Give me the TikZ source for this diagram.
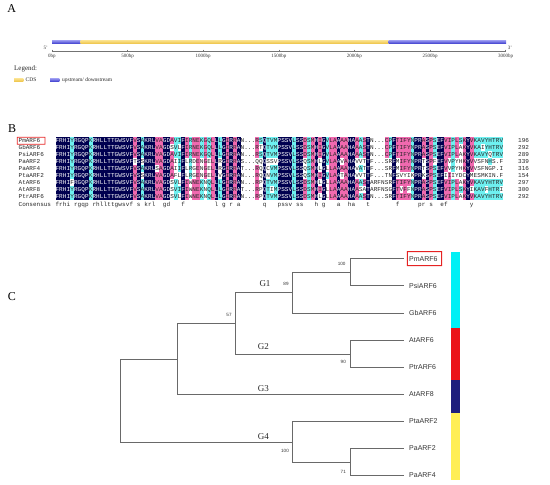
\documentclass[tikz,border=0pt]{standalone}
\usepackage{fontspec}
\setmainfont{Liberation Serif}
\newfontfamily\monof{Liberation Mono}
\newfontfamily\sansf{Liberation Sans}
\definecolor{alnavy}{RGB}{0,0,80}
\definecolor{alpink}{RGB}{240,105,175}
\definecolor{alcyan}{RGB}{110,240,240}
\colorlet{celln}{alnavy}\colorlet{cellp}{alpink}\colorlet{cellc}{alcyan}\colorlet{cellw}{white}
\colorlet{txtn}{white}\colorlet{txtp}{black!85}\colorlet{txtc}{black!85}\colorlet{txtw}{black!85}
\definecolor{segblue}{RGB}{60,60,205}
\definecolor{segbluel}{RGB}{150,150,240}
\definecolor{segyel}{RGB}{238,195,70}
\definecolor{segyell}{RGB}{250,225,140}
\definecolor{treegray}{RGB}{105,105,105}
\definecolor{boxred}{RGB}{230,35,35}
\definecolor{barcyan}{RGB}{0,240,245}
\definecolor{barred}{RGB}{235,20,25}
\definecolor{barnavy}{RGB}{30,30,125}
\definecolor{baryel}{RGB}{255,238,85}
\newcount\ci
\def\emptystr{}
\def\peel#1#2\relax{\def\pHd{#1}\def\pTl{#2}}
\def\tmpl{FRHIYRGQPKRHLLTTGWSVFVSAKRLVAGDAVIFIRNEKGQLLLGIRRAN...RSQTVMPSSVLSSDSMHIGVLAAAAHAAASTN...CPFTIFYNPRASPSEFVIPLSKYVKAVYHTRV}
\def\patt{nnnncnnnncnnnnnnnnnnnpncnnnppnnpccnpcppcpcpncnpnpnwwwwpcncccnnnncnnpcpnpncppnppnnpcpnwwwwpcnppppcnnpnpcnnppcpcpnpcccccccc}
\def\seqrow#1#2{\def\ry{#1}\edef\restS{#2}\let\restT\tmpl\let\restP\patt\ci=0 \seqstep}
\def\seqstep{%
  \ifx\restS\emptystr\else
    \expandafter\peel\restS\relax\let\curch\pHd\let\restS\pTl
    \expandafter\peel\restT\relax\let\tch\pHd\let\restT\pTl
    \expandafter\peel\restP\relax\let\pch\pHd\let\restP\pTl
    \ifx\curch\tch\edef\curcol{\pch}\else\def\curcol{w}\fi
    \pgfmathsetmacro\cx{55.5+3.7*\the\ci}%
    \fill[fill=cell\curcol] (\cx,\ry-3.5) rectangle ++(3.75,7);
    \node[seqtxt,text=txt\curcol] at (\cx+1.85,\ry+2.1) {\curch};
    \advance\ci by 1
    \expandafter\seqstep
  \fi}
\def\consrow#1#2{\def\ry{#1}\edef\restS{#2}\ci=0 \consstep}
\def\consstep{%
  \ifx\restS\emptystr\else
    \expandafter\peel\restS\relax\let\curch\pHd\let\restS\pTl
    \if*\curch\else
      \pgfmathsetmacro\cx{55.5+3.7*\the\ci}%
      \node[seqtxt,text=black!85] at (\cx+1.85,\ry+2.1) {\curch};
    \fi
    \advance\ci by 1
    \expandafter\consstep
  \fi}
\begin{document}
\begin{tikzpicture}[x=1pt,y=-1pt,
  seqtxt/.style={inner sep=0pt,anchor=base,font=\fontsize{6}{7}\selectfont\monof},
  lbl/.style={inner sep=0pt,anchor=base west,font=\fontsize{6}{7}\selectfont\monof,text=black!85},
  panel/.style={inner sep=0pt,font=\fontsize{12}{14}\selectfont},
  tick/.style={inner sep=0pt,font=\fontsize{5}{6}\selectfont,text=black!80},
  axisc/.style={draw=black!55,line width=0.6pt},
  branch/.style={draw=treegray,line width=0.7pt},
  leaf/.style={anchor=west,inner sep=0pt,font=\fontsize{7}{8}\selectfont\sansf,text=black!80},
  boot/.style={inner sep=0pt,font=\fontsize{4.6}{5}\selectfont\sansf,text=black!80},
  grp/.style={inner sep=0pt,font=\fontsize{9}{10}\selectfont,text=black!85},
  redframe/.style={fill=boxred,even odd rule}]
\useasboundingbox (0,0) rectangle (550,485);
% ---------- Panel A ----------
\node[panel] (pA) at (11.7,8.5) {A};
\shade[top color=segbluel,bottom color=segblue] (52,40.3) rectangle (80.7,43.7);
\shade[top color=segyell,bottom color=segyel] (80.7,40.3) rectangle (388.5,43.7);
\shade[top color=segbluel,bottom color=segblue] (388.5,40.3) rectangle (506,43.7);
\draw[axisc] (52,51.7) -- (505.6,51.7);
\foreach \k/\t in {0/0bp,1/500bp,2/1000bp,3/1500bp,4/2000bp,5/2500bp,6/3000bp}{
  \draw[axisc] (52+75.6*\k,49.6) -- (52+75.6*\k,51.7);
  \node[tick] (tk\k) at (52+75.6*\k,56.3) {\t};
}
\node[tick] (five) at (45.8,48) {5'};
\node[tick] (three) at (510,47.7) {3'};
\node[inner sep=0pt,anchor=west,font=\fontsize{7}{8}\selectfont,text=black!85] (leg) at (14,69.3) {Legend:};
\shade[top color=segyell,bottom color=segyel] (14,78.4) rectangle (23.3,81.6);
\node[inner sep=0pt,anchor=west,font=\fontsize{5.5}{6}\selectfont,text=black!85] (cds) at (25.5,80) {CDS};
\shade[top color=segbluel,bottom color=segblue] (50,78.4) rectangle (59.3,81.6);
\node[inner sep=0pt,anchor=west,font=\fontsize{5.5}{6}\selectfont,text=black!85] (ud) at (62,80) {upstream/ downstream};
% ---------- Panel B ----------
\node[panel] (pB) at (12.2,128.3) {B};
\seqrow{140.5}{FRHIYRGQPKRHLLTTGWSVFVSAKRLVAGDAVIFIRNEKGQLLLGIRRAN...RSQTVMPSSVLSSDSMHIGVLAAAAHAAASTN...CPFTIFYNPRASPSEFVIPLSKYVKAVYHTRV}
\seqrow{147.5}{FRHIYRGQPKRHLLTTGWSVFVSAKRLVAGDSVLFIRNEKGQLLLGIRRAN...RTQTVMPSSVLSSDSMHIGVLAAAAHAAASTN...CPFTIFYNPRASPSEFVIPLAKYVKAIYHTRV}
\seqrow{154.5}{FRHIYRGQPKRHLLTTGWSVFVSAKRLVAGDAVIFIRNEKGQLLLGIRRAN...RSQTVMPSSVLSSDSMHIGVLAAAAHAAASTN...CPFTIFYNPRASPSEFVIPLAKYVKAVYQTRV}
\seqrow{161.5}{FRHIYRGQPKRHLLTTGWSVFTSSKRLVAGDAIIFLRDENGELLRGIRRAS...QQQSSVPSSVLSSQSMHLGVLAAVAHAVVTTF...SRFMIFYNPRTSPFEFVVPYHKYVVSFNHS.F}
\seqrow{168.5}{FRHIYRGQPKRHLLTTGWSVFVSAKRLSAGDAIIFLRGENGELLRGIRRAT...RQQCVMPSSVLSSQSMHLGLLAAAAHAVATTF...SRFMIFYNPRTSPSEFVVPYHKYVVSFNGP.I}
\seqrow{175.5}{FRHIYRGQPKRHLLTTGWSVFVSSKRLVAGDAFLFLRGENGELLVGIRRAN...RQQNVMPSSVLSSQSMHIGVLAATAHAVVTTF...TNFSVYIKPRKSPSEFIIIYDCYMESMKIN.F}
\seqrow{182.5}{FRHIFRGQPKRHLLTTGWSVFVSAKRLVAGDSVLFIWNEKNQLLLGIRRAN...RPQTVMPSSVLSSDSMHLGLLAAAAHAAASTARFNSRFTIFYNPRASPSEFVIPLAKYVKAVYHTRV}
\seqrow{189.5}{FRHIYRGQPKRHLLTTGWSVFVSAKRLVAGDSVIFIWNEKNQLLLGIRRAT...RPQTIMPSSVLSSDSMHIGLLAAAAHAASATARFNSGFTVFFNPRASPSEFVIPLSKYIKAVFHTRI}
\seqrow{196.5}{FRHIYRGQPKRHLLTTGWSVFVSAKRLVAGDSVLFIWNEKNQLLLGIRRAN...RPQTVMPSSVLSSDSMHLGLLAAAAHAAASTN...SRFTIFYNPRASPSEFVIPLAKYVKAVYHTRV}
\consrow{204}{frhi*rgqp*rhllttgwsvf*s*krl**gd***f********l*g*r*a******q***pssv*ss***h*g***a**ha***t*******f*****pr*s**ef******y*********}
\foreach \r/\n/\v in {0/PmARF6/196,1/GbARF6/292,2/PsiARF6/289,3/PaARF2/339,4/PaARF4/316,5/PtaARF2/154,6/AtARF6/297,7/AtARF8/300,8/PtrARF6/292}{
  \node[lbl] (nm\r) at (18.5,140.5+7*\r+2.1) {\n};
  \node[lbl] (len\r) at (518,140.5+7*\r+2.1) {\v};
}
\node[lbl] (cons) at (18.5,206.1) {Consensus};
\fill[redframe] (16.9,136.8) rectangle (45.4,144.6) (17.7,137.6) rectangle (44.6,143.8);
% ---------- Panel C ----------
\node[panel] (pC) at (12,297) {C};
\coordinate (root) at (120.7,400);
\coordinate (nA) at (177.7,358.85);
\coordinate (nB) at (235.3,323.4);
\coordinate (nG1) at (292.3,292.75);
\coordinate (nPP) at (350,272.25);
\coordinate (nG2) at (350,354);
\coordinate (nG4) at (292.3,442.3);
\coordinate (nPa) at (350,462.4);
\foreach \k/\nm in {0/PmARF6,1/PsiARF6,2/GbARF6,3/AtARF6,4/PtrARF6,5/AtARF8,6/PtaARF2,7/PaARF2,8/PaARF4}{
  \coordinate (tip\k) at (404,258.7+27.1*\k);
  \node[leaf] (leaf\k) at (409,258.7+27.1*\k) {\nm};
}
\draw[branch] (root) |- (nA);
\draw[branch] (root) |- (nG4);
\draw[branch] (nA) |- (nB);
\draw[branch] (nA) |- (tip5);
\draw[branch] (nB) |- (nG1);
\draw[branch] (nB) |- (nG2);
\draw[branch] (nG1) |- (nPP);
\draw[branch] (nG1) |- (tip2);
\draw[branch] (nPP) |- (tip0);
\draw[branch] (nPP) |- (tip1);
\draw[branch] (nG2) |- (tip3);
\draw[branch] (nG2) |- (tip4);
\draw[branch] (nG4) |- (tip6);
\draw[branch] (nG4) |- (nPa);
\draw[branch] (nPa) |- (tip7);
\draw[branch] (nPa) |- (tip8);
\node[boot] (b1) at (341.7,264.3) {100};
\node[boot] (b2) at (286,284.3) {89};
\node[boot] (b3) at (229,315) {57};
\node[boot] (b4) at (343.3,362.3) {90};
\node[boot] (b5) at (285,451) {100};
\node[boot] (b6) at (343.3,471.7) {71};
\node[grp] (g1) at (265,283.3) {G1};
\node[grp] (g2) at (263.3,346.7) {G2};
\node[grp] (g3) at (263.3,388.3) {G3};
\node[grp] (g4) at (263.3,436.7) {G4};
\fill[redframe] (406.8,251.2) rectangle (442.2,266.2) (407.8,252.2) rectangle (441.2,265.2);
\fill[barcyan] (450.5,252.3) rectangle (459.5,327.7);
\fill[barred] (450.5,327.7) rectangle (459.5,380);
\fill[barnavy] (450.5,380) rectangle (459.5,412.7);
\fill[baryel] (450.5,412.7) rectangle (459.5,480);
\end{tikzpicture}
\end{document}
